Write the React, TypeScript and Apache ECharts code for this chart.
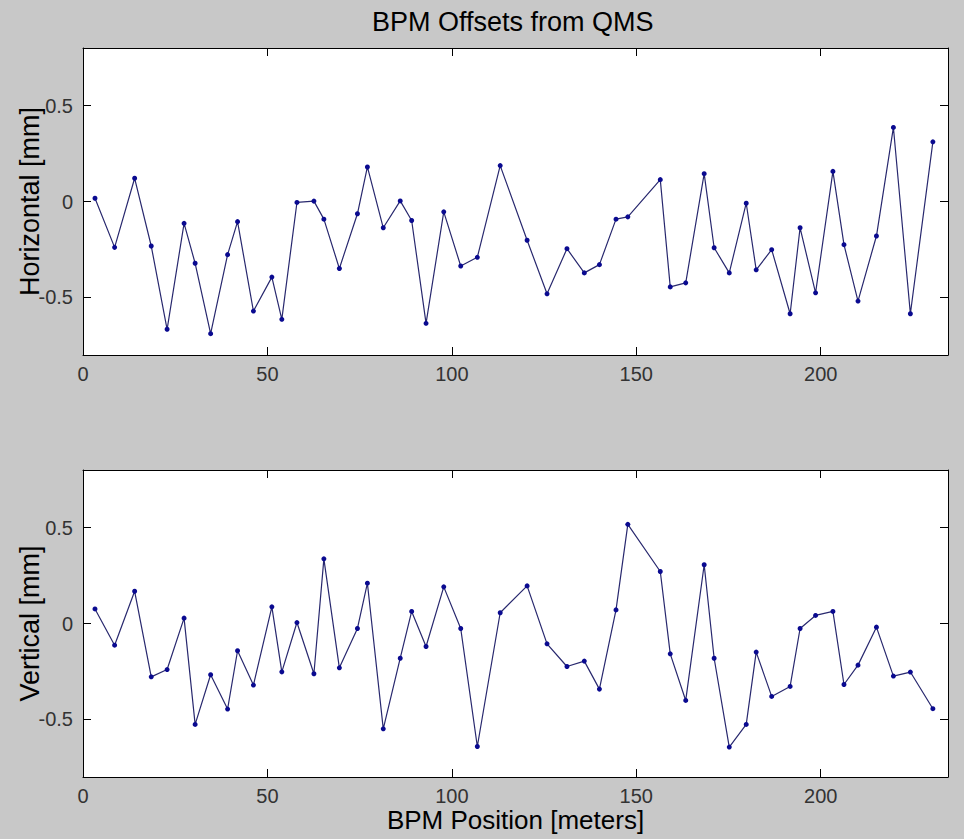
import React, { useEffect, useRef } from "react";
import * as echarts from "echarts";

const bpmPositions = [
  3.25, 8.57, 14.0, 18.5, 22.8, 27.4, 30.4, 34.6, 39.2, 41.9, 46.2, 51.2, 53.9, 58.0, 62.6, 65.3, 69.5,
  74.4, 77.1, 81.4, 86.0, 89.1, 93.0, 97.8, 102.4, 106.9, 113.1, 120.4, 125.8, 131.2, 135.9, 140.0,
  144.5, 147.7, 156.5, 159.2, 163.4, 168.4, 171.1, 175.2, 179.8, 182.5, 186.7, 191.7, 194.4, 198.6,
  203.3, 206.3, 210.1, 215.1, 219.7, 224.3, 230.4,
];

const horizontalOffsets = [
  0.017, -0.239, 0.121, -0.232, -0.666, -0.114, -0.322, -0.689, -0.277, -0.105, -0.571, -0.394, -0.614,
  -0.005, 0.002, -0.092, -0.349, -0.064, 0.18, -0.137, 0.003, -0.099, -0.635, -0.054, -0.336, -0.291,
  0.187, -0.202, -0.481, -0.246, -0.372, -0.329, -0.092, -0.08, 0.114, -0.445, -0.424, 0.145, -0.241,
  -0.372, -0.009, -0.356, -0.251, -0.585, -0.137, -0.476, 0.157, -0.225, -0.519, -0.18, 0.386, -0.585,
  0.311,
];

const verticalOffsets = [
  0.076, -0.113, 0.168, -0.278, -0.24, 0.028, -0.526, -0.267, -0.446, -0.142, -0.321, 0.087, -0.252,
  0.005, -0.262, 0.337, -0.231, -0.026, 0.21, -0.549, -0.181, 0.063, -0.12, 0.191, -0.026, -0.641,
  0.056, 0.196, -0.106, -0.224, -0.196, -0.342, 0.071, 0.517, 0.271, -0.158, -0.401, 0.306, -0.181,
  -0.644, -0.526, -0.149, -0.38, -0.328, -0.026, 0.042, 0.063, -0.318, -0.217, -0.019, -0.274, -0.253,
  -0.444,
];

const xTicks = [0, 50, 100, 150, 200];
const yTicks = [-0.5, 0, 0.5];
const xRange = [0, 234.5];
const yRange = [-0.8, 0.8];

const FONT = "'Liberation Sans', Arial, Helvetica, sans-serif";

export default function App() {
  const ref = useRef<HTMLDivElement>(null);

  useEffect(() => {
    if (!ref.current) return;
    const chart = echarts.init(ref.current, null, { renderer: "svg" });

    const tickStyle = { show: true, inside: true, length: 8, lineStyle: { color: "#000", width: 1 } };
    const lineStyle = { show: true, onZero: false, lineStyle: { color: "#000", width: 1 } };
    const labelStyle = { color: "#333", fontSize: 20, fontFamily: FONT };

    const makeX = (gridIndex: number, position: string, labels: boolean, name?: string) => ({
      type: "value",
      gridIndex,
      position,
      min: xRange[0],
      max: xRange[1],
      axisLine: lineStyle,
      axisTick: { ...tickStyle, customValues: xTicks },
      axisLabel: labels
        ? { ...labelStyle, margin: 9, customValues: xTicks, formatter: (v: number) => String(v) }
        : { show: false },
      splitLine: { show: false },
      name: name || "",
      nameLocation: "middle",
      nameGap: 30,
      nameMoveOverlap: false,
      nameTextStyle: { color: "#000", fontSize: 26, fontFamily: FONT },
    });

    const makeY = (gridIndex: number, position: string, labels: boolean, name?: string) => ({
      type: "value",
      gridIndex,
      position,
      min: yRange[0],
      max: yRange[1],
      axisLine: lineStyle,
      axisTick: { ...tickStyle, customValues: yTicks },
      axisLabel: labels
        ? { ...labelStyle, margin: 10, customValues: yTicks, formatter: (v: number) => String(v) }
        : { show: false },
      splitLine: { show: false },
      name: name || "",
      nameLocation: "middle",
      nameGap: 40,
      nameMoveOverlap: false,
      nameTextStyle: { color: "#000", fontSize: 27, fontFamily: FONT },
    });

    const seriesStyle = {
      type: "line",
      symbol: "circle",
      symbolSize: 5,
      showSymbol: true,
      lineStyle: { color: "#28286e", width: 1.2 },
      itemStyle: { color: "#0a0a90" },
    };

    chart.setOption({
      animation: false,
      backgroundColor: "#c8c8c8",
      title: {
        text: "BPM Offsets from QMS",
        left: 372,
        top: 8,
        padding: 0,
        textStyle: { color: "#000", fontSize: 27, fontWeight: "normal", fontFamily: FONT },
      },
      grid: [
        { left: 83, right: 16, top: 48, height: 307, show: true, backgroundColor: "#fff", borderWidth: 0 },
        { left: 83, right: 16, top: 470, height: 307, show: true, backgroundColor: "#fff", borderWidth: 0 },
      ],
      xAxis: [
        makeX(0, "bottom", true),
        makeX(0, "top", false),
        makeX(1, "bottom", true, "BPM Position [meters]"),
        makeX(1, "top", false),
      ],
      yAxis: [
        makeY(0, "left", true, "Horizontal [mm]"),
        makeY(0, "right", false),
        makeY(1, "left", true, "Vertical [mm]"),
        makeY(1, "right", false),
      ],
      series: [
        {
          ...seriesStyle,
          name: "Horizontal",
          xAxisIndex: 0,
          yAxisIndex: 0,
          data: bpmPositions.map((x, i) => [x, horizontalOffsets[i]]),
        },
        {
          ...seriesStyle,
          name: "Vertical",
          xAxisIndex: 2,
          yAxisIndex: 2,
          data: bpmPositions.map((x, i) => [x, verticalOffsets[i]]),
        },
      ],
    });

    return () => chart.dispose();
  }, []);

  return (
    <div
      ref={ref}
      style={{ position: "fixed", left: 0, top: 0, width: 964, height: 839 }}
    />
  );
}
